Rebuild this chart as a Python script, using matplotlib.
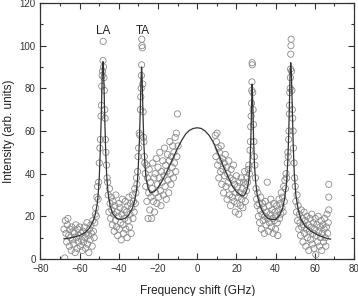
import matplotlib
matplotlib.use("Agg")
import matplotlib.pyplot as plt
from matplotlib.ticker import MultipleLocator

plt.rcParams['font.family'] = ['Liberation Sans', 'DejaVu Sans']

# measured points, anti-Stokes side (negative shift)
left_x = [-68.0, -67.6, -67.3, -67.0, -66.6, -66.3, -66.0, -65.6, -65.3, -65.0, -64.6, -64.3, -64.0, -63.6, -63.3,
          -63.0, -62.6, -62.3, -62.0, -61.6, -61.3, -61.0, -60.6, -60.3, -60.0, -59.6, -59.3, -59.0, -58.6, -58.3,
          -58.0, -57.6, -57.3, -57.0, -56.6, -56.3, -56.0, -55.6, -55.3, -55.0, -54.6, -54.3, -54.0, -53.6, -53.3,
          -53.0, -52.6, -52.3, -52.0,
          -51.8, -51.5, -51.2, -50.9, -50.6, -50.3, -50.0, -49.7, -49.4, -49.1, -48.9, -48.7, -48.5, -48.3, -48.1,
          -48.0, -47.8, -47.6, -47.4, -47.2, -47.0, -46.8, -46.6, -46.3, -46.0,
          -45.7, -45.4, -45.1, -44.8, -44.5, -44.2, -43.9, -43.6, -43.3, -43.0, -42.7, -42.4, -42.1, -41.8, -41.5,
          -41.2, -40.9, -40.6, -40.3, -40.0, -39.7, -39.4, -39.1, -38.8, -38.5, -38.2, -37.9, -37.6, -37.3, -37.0,
          -36.7, -36.4, -36.1, -35.8, -35.5, -35.2, -34.9, -34.6, -34.3, -34.0, -33.7, -33.4, -33.1, -32.8, -32.5,
          -32.2, -31.9, -31.6, -31.3, -31.0,
          -30.8, -30.5, -30.2, -29.9, -29.6, -29.3, -29.0, -28.8, -28.6, -28.5, -28.4, -28.3, -28.2, -28.0, -27.8,
          -27.6, -27.4, -27.2, -27.0, -26.8,
          -26.6, -26.3, -26.0, -25.7, -25.4, -25.1, -24.8, -24.5, -24.2, -23.9, -23.6, -23.3, -23.0, -22.7, -22.4,
          -22.1, -21.8, -21.5, -21.2, -20.9, -20.6, -20.3, -20.0, -19.7, -19.4, -19.1, -18.8, -18.5, -18.2, -17.9,
          -17.6, -17.3, -17.0, -16.7, -16.4, -16.1, -15.8, -15.5, -15.2, -14.9, -14.6, -14.3, -14.0, -13.7, -13.4,
          -13.1, -12.8, -12.5, -12.2, -11.9, -11.6, -11.3, -11.0, -10.7, -10.4, -10.1, -9.8]
left_y = [14, 0.5, 18, 12, 8, 16, 19, 11, 6, 14, 10, 4, 15, 9, 13,
          7, 12, 3, 16, 10, 5, 14, 8, 11, 15, 6, 12, 9, 4, 13,
          8, 15, 10, 5, 12, 17, 7, 11, 3, 14, 9, 16, 12, 6, 18,
          13, 10, 17, 21,
          24, 20, 29, 34, 28, 36, 45, 52, 56, 67, 72, 81, 86, 88, 93,
          102, 90, 85, 79, 70, 66, 56, 50, 44, 38,
          36, 30, 22, 33, 26, 19, 29, 23, 16, 27, 21, 13, 25, 18, 30,
          15, 22, 11, 20, 26, 14, 24, 17, 9, 21, 28, 16, 12, 23, 19,
          27, 14, 22, 10, 25, 18, 29, 15, 21, 26, 12, 24, 30, 19, 27,
          22, 33, 26, 31, 38,
          35, 41, 48, 52, 59, 58, 70, 76, 80, 86, 91, 103, 100, 99, 82,
          69, 57, 55, 48, 45,
          40, 34, 44, 27, 38, 19, 31, 42, 23, 36, 29, 19, 33, 45, 27,
          38, 22, 40, 31, 47, 26, 35, 43, 29, 38, 50, 32, 25, 41, 36,
          46, 30, 39, 52, 34, 44, 28, 41, 49, 37, 31, 46, 55, 40, 35,
          48, 43, 53, 38, 50, 45, 57, 41, 59, 48, 68, 53]

# measured points, Stokes side (positive shift)
right_x = [9.2, 9.5, 9.8, 10.1, 10.4, 10.7, 11.0, 11.3, 11.6, 11.9, 12.2, 12.5, 12.8, 13.1, 13.4,
           13.7, 14.0, 14.3, 14.6, 14.9, 15.2, 15.5, 15.8, 16.1, 16.4, 16.7, 17.0, 17.3, 17.6, 17.9,
           18.2, 18.5, 18.8, 19.1, 19.4, 19.7, 20.0, 20.3, 20.6, 20.9, 21.2, 21.5, 21.8, 22.1, 22.4,
           22.7, 23.0, 23.3, 23.6, 23.9, 24.2, 24.5, 24.8, 25.1, 25.4, 25.7, 26.0,
           26.3, 26.6, 26.9, 27.1, 27.3, 27.5, 27.7, 27.8, 27.9, 28.0, 28.1, 28.3, 28.5, 28.7, 28.9,
           29.1, 29.4, 29.7,
           30.0, 30.3, 30.6, 30.9, 31.2, 31.5, 31.8, 32.1, 32.4, 32.7, 33.0, 33.3, 33.6, 33.9, 34.2,
           34.5, 34.8, 35.1, 35.4, 35.7, 36.0, 36.3, 36.6, 36.9, 37.2, 37.5, 37.8, 38.1, 38.4, 38.7,
           39.0, 39.3, 39.6, 39.9, 40.2, 40.5, 40.8, 41.1, 41.4, 41.7, 42.0, 42.3, 42.6, 42.9, 43.2,
           43.5, 43.8, 44.1, 44.4, 44.7, 45.0, 45.3,
           45.6, 45.9, 46.2, 46.4, 46.6, 46.8, 47.0, 47.1, 47.2, 47.4, 47.5, 47.6, 47.7, 47.8, 47.9,
           48.1, 48.3, 48.5, 48.7, 48.9, 49.1, 49.4, 49.7,
           50.0, 50.3, 50.6, 50.9, 51.2, 51.5, 51.8, 52.1, 52.4, 52.7, 53.0, 53.3, 53.6, 53.9, 54.2,
           54.5, 54.8, 55.1, 55.4, 55.7, 56.0, 56.3, 56.6, 56.9, 57.2, 57.5, 57.8, 58.1, 58.4, 58.7,
           59.0, 59.3, 59.6, 59.9, 60.2, 60.5, 60.8, 61.1, 61.4, 61.7, 62.0, 62.3, 62.6, 62.9, 63.2,
           63.5, 63.8, 64.1, 64.4, 64.7, 65.0, 65.3, 65.6, 65.9, 66.2, 66.5, 66.8, 67.1, 67.1, 67.1]
right_y = [58, 48, 55, 59, 44, 52, 38, 50, 46, 41, 53, 35, 47, 42, 31,
           45, 39, 49, 34, 43, 28, 40, 36, 46, 30, 38, 25, 42, 33, 29,
           37, 44, 27, 35, 22, 31, 39, 26, 34, 29, 21, 36, 31, 25, 38,
           28, 33, 24, 36, 30, 41, 27, 35, 32, 38, 36, 42,
           44, 40, 51, 55, 62, 67, 73, 79, 83, 92, 91, 78, 70, 63, 55,
           48, 44, 38,
           33, 28, 25, 31, 20, 26, 17, 23, 29, 14, 21, 26, 18, 24, 12,
           20, 27, 16, 22, 36, 19, 13, 25, 17, 21, 28, 15, 23, 19, 12,
           26, 18, 22, 14, 20, 25, 17, 11, 23, 28, 19, 26, 21, 31, 24,
           29, 22, 34, 27, 37, 33, 40,
           38, 45, 50, 48, 56, 60, 68, 72, 78, 80, 85, 89, 96, 100, 103,
           88, 79, 70, 66, 60, 52, 45, 38,
           34, 27, 22, 30, 18, 25, 14, 21, 17, 11, 23, 15, 19, 8, 16,
           22, 12, 18, 6, 14, 20, 10, 16, 4, 13, 19, 9, 15, 21, 7,
           12, 17, 5, 14, 19, 2, 11, 16, 8, 20, 13, 6, 15, 10, 18,
           4, 12, 16, 8, 14, 19, 10, 6, 15, 21, 12, 17, 35, 29, 23]

# fitted curve
fit_x = [-68, -64, -60, -57, -55, -53, -52, -51, -50.5, -50, -49.5, -49, -48.6, -48.3, -48.1,
         -47.9, -47.6, -47.2, -46.7, -46.2, -45.5, -44.5, -43, -41, -39, -37, -35, -33, -32, -31,
         -30.5, -30, -29.5, -29, -28.7, -28.4, -28.1, -27.7, -27.2, -26.6, -26, -25, -24, -22, -20,
         -18, -16, -14, -12, -10, -8, -6, -4, -2, 0, 2, 4, 6, 8, 10,
         12, 14, 16, 18, 20, 22, 23.5, 24.5, 25.5, 26.3, 26.9, 27.4, 27.7, 28.0, 28.3,
         28.7, 29.2, 29.8, 30.6, 32, 34, 36, 38, 40, 42, 43.5, 44.5, 45.5, 46.2, 46.7,
         47.1, 47.4, 47.7, 48.0, 48.4, 48.9, 49.5, 50.3, 51.5, 53, 55, 58, 62, 66, 68]
fit_y = [9.5, 10, 11, 12.5, 14.5, 18, 21, 26, 31, 38, 50, 66, 82, 91, 92.5,
         91, 82, 66, 50, 39, 31, 25, 21, 19, 18.5, 19, 20.5, 24, 27, 32,
         37, 45, 56, 72, 84, 90, 84, 68, 53, 43, 37, 33, 31, 31.5, 33.5,
         36.5, 40, 44, 48, 52, 55.5, 58.5, 60.3, 61.2, 61.5, 61.2, 60, 58, 55, 51,
         46.5, 42, 38, 34, 31.5, 30, 29.5, 30.5, 33, 37, 44, 58, 72, 82, 74,
         57, 44, 36, 30, 25, 21, 19, 18.5, 18.5, 20.5, 23.5, 28, 35, 46, 60,
         76, 88, 92, 88, 74, 55, 40, 30, 23, 18.5, 15.5, 13, 11, 9.7, 9.3]

peak_names = ['LA', 'TA']
peak_pos = [-48, -28]

fig = plt.figure(figsize=(3.58, 2.96), dpi=100)
ax = fig.add_axes([0.113, 0.125, 0.876, 0.865])

ax.scatter(left_x + right_x, left_y + right_y, s=20, facecolors='none',
           edgecolors='#8a8a8a', linewidths=0.6, zorder=2)
ax.plot(fit_x, fit_y, color='#333333', lw=0.9, zorder=3)

for name, xp in zip(peak_names, peak_pos):
    ax.text(xp, 104, name, ha='center', va='bottom', fontsize=8.5, color='#222222')

ax.set_xlim(-80, 80)
ax.set_ylim(0, 120)
ax.xaxis.set_major_locator(MultipleLocator(20))
ax.xaxis.set_minor_locator(MultipleLocator(10))
ax.yaxis.set_major_locator(MultipleLocator(20))
ax.yaxis.set_minor_locator(MultipleLocator(10))
ax.tick_params(which='both', direction='in', top=True, right=True,
               color='#333333', labelsize=7, labelcolor='#333333', width=0.8)
ax.tick_params(which='major', length=4)
ax.tick_params(which='minor', length=2.5)
for sp in ax.spines.values():
    sp.set_color('#333333')
    sp.set_linewidth(0.9)

ax.set_xlabel('Frequency shift (GHz)', fontsize=8.5, color='#222222', labelpad=8)
ax.set_ylabel('Intensity (arb. units)', fontsize=8.5, color='#222222', labelpad=3)

fig.savefig('out.png', dpi=100)
